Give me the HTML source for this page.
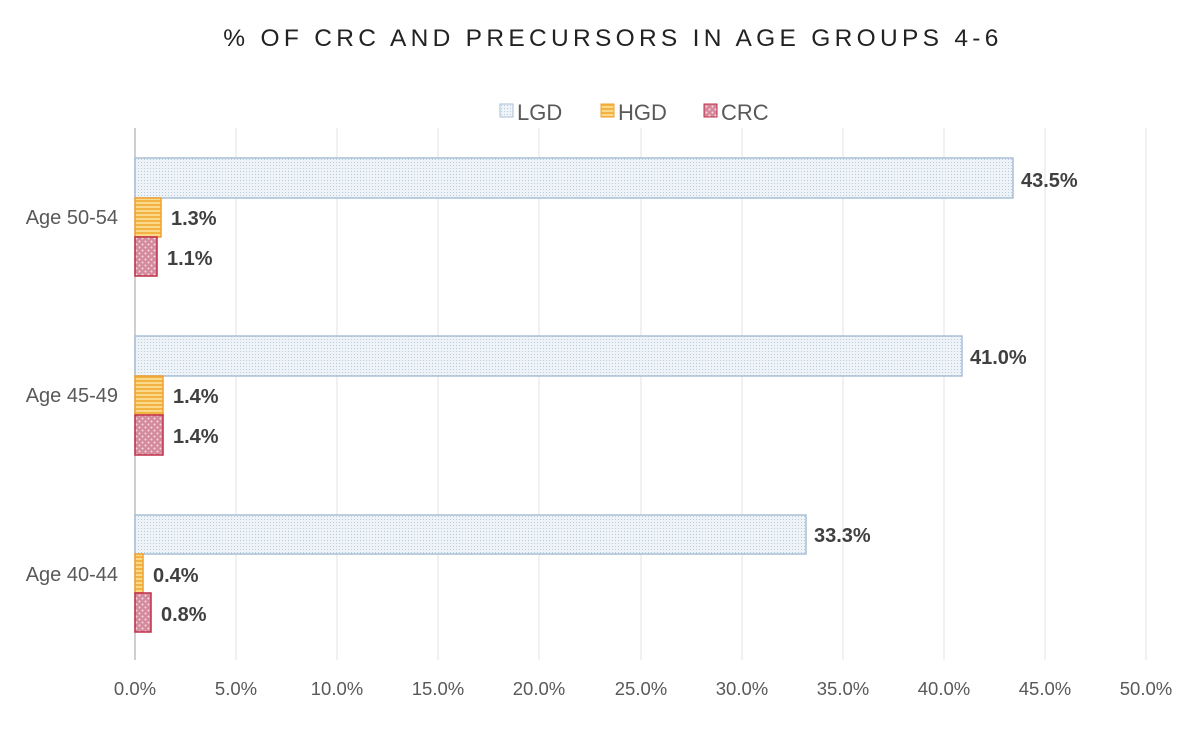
<!DOCTYPE html>
<html><head><style>body{margin:0;background:#fff}svg{display:block}</style></head><body>
<svg width="1200" height="731" xmlns="http://www.w3.org/2000/svg" font-family="Liberation Sans, sans-serif">
<defs>
<pattern id="pl" width="3" height="3" patternUnits="userSpaceOnUse"><rect width="3" height="3" fill="#eef3f8"/><rect width="1" height="1" fill="#b9cbe0"/></pattern>
<pattern id="ph" width="4" height="4" patternUnits="userSpaceOnUse"><rect width="4" height="4" fill="#fbd98a"/><rect width="4" height="2" fill="#f3b342"/></pattern>
<pattern id="pc" width="6" height="6" patternUnits="userSpaceOnUse"><rect width="6" height="6" fill="#d48a9c"/><circle cx="1.5" cy="1.5" r="1" fill="#f4dbe2"/><circle cx="4.5" cy="4.5" r="1" fill="#f4dbe2"/></pattern>
</defs>
<text x="613" y="46" text-anchor="middle" font-size="24.5" letter-spacing="4.3" fill="#222">% OF CRC AND PRECURSORS IN AGE GROUPS 4-6</text>
<g font-size="22" fill="#595959">
<rect x="500" y="104" width="13" height="13" fill="url(#pl)" stroke="#a9bfd6"/><text x="517" y="120">LGD</text>
<rect x="601" y="104" width="13" height="13" fill="url(#ph)" stroke="#f0a030"/><text x="618" y="120">HGD</text>
<rect x="704" y="104" width="13" height="13" fill="url(#pc)" stroke="#c0304a"/><text x="721" y="120">CRC</text>
</g>
<g stroke="#e3e3e3" stroke-width="1">
<line x1="236" y1="128" x2="236" y2="660"/><line x1="337" y1="128" x2="337" y2="660"/><line x1="438" y1="128" x2="438" y2="660"/><line x1="539" y1="128" x2="539" y2="660"/><line x1="641" y1="128" x2="641" y2="660"/><line x1="742" y1="128" x2="742" y2="660"/><line x1="843" y1="128" x2="843" y2="660"/><line x1="944" y1="128" x2="944" y2="660"/><line x1="1146" y1="128" x2="1146" y2="660"/><line x1="1045" y1="128" x2="1045" y2="660"/>
</g>
<line x1="135" y1="128" x2="135" y2="660" stroke="#bfbfbf" stroke-width="1.5"/>
<g stroke-width="1.5">
<rect x="135" y="158" width="878" height="40" fill="url(#pl)" stroke="#a9bfd6"/>
<rect x="135" y="198" width="26" height="39" fill="url(#ph)" stroke="#f0a030"/>
<rect x="135" y="237" width="22" height="39" fill="url(#pc)" stroke="#c0304a"/>
<rect x="135" y="336" width="827" height="40" fill="url(#pl)" stroke="#a9bfd6"/>
<rect x="135" y="376" width="28" height="39" fill="url(#ph)" stroke="#f0a030"/>
<rect x="135" y="415" width="28" height="40" fill="url(#pc)" stroke="#c0304a"/>
<rect x="135" y="515" width="671" height="39" fill="url(#pl)" stroke="#a9bfd6"/>
<rect x="135" y="554" width="8" height="39" fill="url(#ph)" stroke="#f0a030"/>
<rect x="135" y="593" width="16" height="39" fill="url(#pc)" stroke="#c0304a"/>
</g>
<g font-size="20" font-weight="bold" fill="#404040">
<text x="1021" y="187">43.5%</text><text x="171" y="225">1.3%</text><text x="167" y="265">1.1%</text>
<text x="970" y="364">41.0%</text><text x="173" y="403">1.4%</text><text x="173" y="443">1.4%</text>
<text x="814" y="542">33.3%</text><text x="153" y="582">0.4%</text><text x="161" y="621">0.8%</text>
</g>
<g font-size="20" fill="#595959" text-anchor="end">
<text x="118" y="224">Age 50-54</text><text x="118" y="402">Age 45-49</text><text x="118" y="581">Age 40-44</text>
</g>
<g font-size="18.5" fill="#595959" text-anchor="middle">
<text x="135" y="695">0.0%</text><text x="236" y="695">5.0%</text><text x="337" y="695">10.0%</text><text x="438" y="695">15.0%</text><text x="539" y="695">20.0%</text><text x="641" y="695">25.0%</text><text x="742" y="695">30.0%</text><text x="843" y="695">35.0%</text><text x="944" y="695">40.0%</text><text x="1045" y="695">45.0%</text><text x="1146" y="695">50.0%</text>
</g>
</svg>
</body></html>
